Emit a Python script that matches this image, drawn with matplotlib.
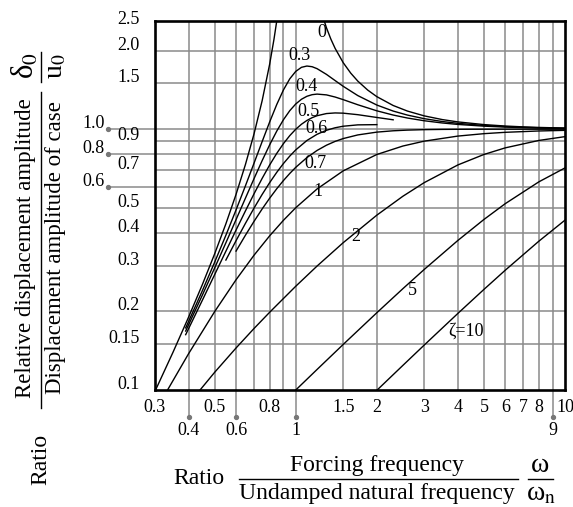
import matplotlib.pyplot as plt
from matplotlib import transforms
from matplotlib.lines import Line2D
from matplotlib.ticker import NullLocator

plt.rcParams['font.family'] = ['Liberation Serif', 'DejaVu Serif']
plt.rcParams['mathtext.fontset'] = 'stix'

# frequency ratio (w / wn) and relative displacement (delta0 / u0) read per curve
r_z0_low = [0.3, 0.35, 0.4, 0.45, 0.5, 0.55, 0.6, 0.65, 0.7, 0.75, 0.8, 0.83, 0.85]
d_z0_low = [0.0989, 0.1396, 0.1905, 0.2539, 0.3333, 0.4337, 0.5625, 0.7316,
            0.9608, 1.2857, 1.7778, 2.214, 2.604]
r_z0_high = [1.25, 1.3, 1.35, 1.4, 1.5, 1.6, 1.7, 1.85, 2.0, 2.3, 2.6, 3, 3.5, 4, 5, 6, 7, 8, 10]
d_z0_high = [2.778, 2.449, 2.216, 2.042, 1.8, 1.641, 1.529, 1.4128, 1.3333, 1.2331,
             1.1736, 1.125, 1.0889, 1.0667, 1.0417, 1.0286, 1.0208, 1.0159, 1.0101]

r_z03 = [0.39, 0.45, 0.5, 0.55, 0.6, 0.65, 0.7, 0.75, 0.8, 0.85, 0.9, 0.95, 1.0, 1.05,
         1.1, 1.15, 1.2, 1.3, 1.4, 1.5, 1.7, 2.0, 2.3, 2.6, 3, 3.5, 4, 5, 6, 7, 8, 10]
d_z03 = [0.173, 0.2405, 0.3095, 0.392, 0.4903, 0.6063, 0.7416, 0.8963, 1.0667, 1.2444,
         1.4149, 1.5606, 1.6667, 1.7273, 1.747, 1.7365, 1.7066, 1.6228, 1.5365, 1.4608,
         1.3456, 1.238, 1.1739, 1.1328, 1.0976, 1.0704, 1.0533, 1.0336, 1.0232, 1.017,
         1.0129, 1.0083]

r_z04 = r_z03
d_z04 = [0.1683, 0.2314, 0.2941, 0.3668, 0.45, 0.5437, 0.6469, 0.7575, 0.8716, 0.9838,
         1.0877, 1.1779, 1.25, 1.3029, 1.3375, 1.3566, 1.3636, 1.3541, 1.3287, 1.2985,
         1.2411, 1.1765, 1.1333, 1.1038, 1.0776, 1.0567, 1.0432, 1.0275, 1.019, 1.0139,
         1.0107, 1.0068]

r_z05 = [0.39, 0.45, 0.5, 0.55, 0.6, 0.65, 0.7, 0.75, 0.8, 0.85, 0.9, 0.95, 1.0, 1.05,
         1.1, 1.15, 1.2, 1.3, 1.4, 1.5, 1.7, 2.0, 2.3]
d_z05 = [0.163, 0.2211, 0.2774, 0.3405, 0.4104, 0.4859, 0.5658, 0.6478, 0.7295, 0.8081,
         0.8806, 0.945, 1.0, 1.045, 1.0805, 1.1073, 1.1267, 1.1483, 1.1546, 1.1523,
         1.1369, 1.1094, 1.0868]

r_z06 = [0.55, 0.6, 0.65, 0.7, 0.75, 0.8, 0.85, 0.9, 0.95, 1.0, 1.1, 1.2, 1.3, 1.4,
         1.5, 1.7, 2.0]
d_z06 = [0.315, 0.3737, 0.4353, 0.4986, 0.5621, 0.6242, 0.6835, 0.7387, 0.7888, 0.8333,
         0.9053, 0.9564, 0.9907, 1.013, 1.0267, 1.0392, 1.0412]

r_z07 = [0.6, 0.65, 0.7, 0.75, 0.8, 0.85, 0.9, 0.95, 1.0, 1.1, 1.2, 1.3, 1.4, 1.5, 1.7,
         2.0, 2.3, 2.6, 3, 3.5, 4, 5, 6, 7, 8, 10]
d_z07 = [0.3409, 0.392, 0.4435, 0.4945, 0.544, 0.5913, 0.6357, 0.6767, 0.7143, 0.7785,
         0.8292, 0.8683, 0.8981, 0.9207, 0.9509, 0.9747, 0.9862, 0.9921, 0.9961, 0.9983,
         0.9993, 1.0, 1.0002, 1.0002, 1.0002, 1.0002]

r_z1 = [0.3, 0.4, 0.5, 0.6, 0.7, 0.8, 0.9, 1.0, 1.2, 1.5, 2.0, 2.5, 3, 4, 5, 6, 8, 10]
d_z1 = [0.0826, 0.1379, 0.2, 0.2647, 0.3289, 0.3902, 0.4475, 0.5, 0.5902, 0.6923, 0.8,
        0.8621, 0.9, 0.9412, 0.9615, 0.973, 0.9846, 0.9901]

r_z2 = [0.4, 0.5, 0.6, 0.7, 0.8, 1.0, 1.2, 1.5, 2.0, 2.5, 3, 4, 5, 6, 8, 10]
d_z2 = [0.0885, 0.117, 0.1449, 0.1722, 0.1987, 0.25, 0.2988, 0.3671, 0.4682, 0.5534,
        0.624, 0.7295, 0.8002, 0.8483, 0.9057, 0.9366]

r_z5 = [0.9, 1.0, 1.2, 1.5, 2.0, 2.5, 3, 4, 5, 6, 8, 10]
d_z5 = [0.09, 0.1, 0.1199, 0.1495, 0.1978, 0.2447, 0.2899, 0.3745, 0.4508, 0.5183,
        0.6285, 0.7106]

r_z10 = [1.8, 2.0, 2.5, 3, 4, 5, 6, 8, 10]
d_z10 = [0.0898, 0.0997, 0.1243, 0.1487, 0.1966, 0.2431, 0.288, 0.3722, 0.4481]

curves = [(r_z0_low, d_z0_low), (r_z0_high, d_z0_high), (r_z03, d_z03), (r_z04, d_z04),
          (r_z05, d_z05), (r_z06, d_z06), (r_z07, d_z07), (r_z1, d_z1), (r_z2, d_z2),
          (r_z5, d_z5), (r_z10, d_z10)]

# curve labels and where they sit
curve_labels = ['0', '0.3', '0.4', '0.5', '0.6', '0.7', '1', '2', '5', 'ζ=10']
label_x = [1.25, 1.03, 1.098, 1.113, 1.196, 1.179, 1.212, 1.674, 2.72, 4.28]
label_y = [2.34, 1.925, 1.464, 1.174, 1.008, 0.74, 0.576, 0.3895, 0.2417, 0.1688]

grid_x = [0.4, 0.5, 0.6, 0.7, 0.8, 0.9, 1, 1.5, 2, 3, 4, 5, 6, 7, 8, 9]
grid_y = [0.15, 0.2, 0.3, 0.4, 0.5, 0.6, 0.7, 0.8, 0.9, 1.0, 1.5, 2.0]

xlab_row1 = [0.3, 0.5, 0.8, 1.5, 2, 3, 4, 5, 6, 7, 8, 10]
xlab_row1_txt = ['0.3', '0.5', '0.8', '1.5', '2', '3', '4', '5', '6', '7', '8', '10']
xlab_row2 = [0.4, 0.6, 1, 9]
xlab_row2_txt = ['0.4', '0.6', '1', '9']

ylab_col1 = [0.1, 0.15, 0.2, 0.3, 0.4, 0.5, 0.7, 0.9, 1.5, 2.0, 2.5]
ylab_col1_txt = ['0.1', '0.15', '0.2', '0.3', '0.4', '0.5', '0.7', '0.9', '1.5', '2.0', '2.5']
ylab_col2 = [0.6, 0.8, 1.0]
ylab_col2_txt = ['0.6', '0.8', '1.0']

GRID = '#8a8a8a'
W, H = 573, 507

fig = plt.figure(figsize=(W / 100, H / 100), dpi=100)
ax = fig.add_axes([155 / W, 117 / H, 410 / W, 369 / H])
ax.set_xscale('log')
ax.set_yscale('log')
ax.set_xlim(0.3, 10)
ax.set_ylim(0.1, 2.6)

ax.set_xticks(grid_x)
ax.set_yticks(grid_y)
ax.xaxis.set_minor_locator(NullLocator())
ax.yaxis.set_minor_locator(NullLocator())
ax.tick_params(length=0, labelbottom=False, labelleft=False)
ax.grid(True, color=GRID, lw=1.1)
for s in ax.spines.values():
    s.set_linewidth(1.9)
    s.set_zorder(5)

for r, d in curves:
    ax.plot(r, d, color='black', lw=1.0, zorder=3)

for t, x, y in zip(curve_labels, label_x, label_y):
    ax.text(x, y, t, fontsize=13, ha='center', va='center', zorder=4)

# tick labels, two staggered rows on x and two columns on y
xt = ax.get_xaxis_transform()
yt = ax.get_yaxis_transform()
for x, t in zip(xlab_row1, xlab_row1_txt):
    ax.text(x, -0.048, t, transform=xt, fontsize=13, ha='center', va='center')
for x, t in zip(xlab_row2, xlab_row2_txt):
    ax.plot([x, x], [0, -0.072], transform=xt, color=GRID, lw=1.1, clip_on=False)
    ax.plot([x], [-0.072], 'o', ms=2.8, color='#777777', transform=xt, clip_on=False)
    ax.text(x, -0.11, t, transform=xt, fontsize=13, ha='center', va='center')

ylift = transforms.offset_copy(yt, fig=fig, y=4, units='points')
for y, t in zip(ylab_col1, ylab_col1_txt):
    ax.text(-0.038, y, t, transform=ylift, fontsize=13, ha='right', va='center')
for y, t in zip(ylab_col2, ylab_col2_txt):
    ax.plot([0, -0.115], [y, y], transform=yt, color=GRID, lw=1.1, clip_on=False)
    ax.plot([-0.115], [y], 'o', ms=2.8, color='#777777', transform=yt, clip_on=False)
    ax.text(-0.123, y, t, transform=ylift, fontsize=13, ha='right', va='center')

# x axis title built as a fraction
fig.text(199 / W, 1 - 479 / H, 'Ratio', fontsize=17, ha='center', va='center')
fig.text(377 / W, 1 - 466 / H, 'Forcing frequency', fontsize=17, ha='center', va='center')
fig.text(377 / W, 1 - 493 / H, 'Undamped natural frequency', fontsize=17,
         ha='center', va='center')
fig.add_artist(Line2D([239 / W, 518 / W], [1 - 479 / H, 1 - 479 / H], color='black', lw=1.0))
fig.text(540 / W, 1 - 466 / H, 'ω', fontsize=20, ha='center', va='center')
fig.text(541 / W, 1 - 494 / H, r'ω$_{\mathrm{n}}$', fontsize=20, ha='center', va='center')
fig.add_artist(Line2D([528 / W, 553 / W], [1 - 479 / H, 1 - 479 / H], color='black', lw=1.0))

# y axis title, rotated fraction
fig.text(41 / W, 1 - 459 / H, 'Ratio', fontsize=17, rotation=90, ha='center', va='center')
fig.text(26 / W, 1 - 248 / H, 'Relative displacement amplitude', fontsize=16.5,
         rotation=90, ha='center', va='center')
fig.text(56 / W, 1 - 248 / H, 'Displacement amplitude of case', fontsize=16.5,
         rotation=90, ha='center', va='center')
fig.add_artist(Line2D([41 / W, 41 / W], [1 - 408 / H, 1 - 92 / H], color='black', lw=1.0))
fig.text(26 / W, 1 - 66 / H, r'δ$_0$', fontsize=22, rotation=90, ha='center', va='center')
fig.text(56 / W, 1 - 66 / H, r'u$_0$', fontsize=20, rotation=90, ha='center', va='center')
fig.add_artist(Line2D([41 / W, 41 / W], [1 - 82 / H, 1 - 52 / H], color='black', lw=1.0))

fig.savefig('out.png', dpi=100)
